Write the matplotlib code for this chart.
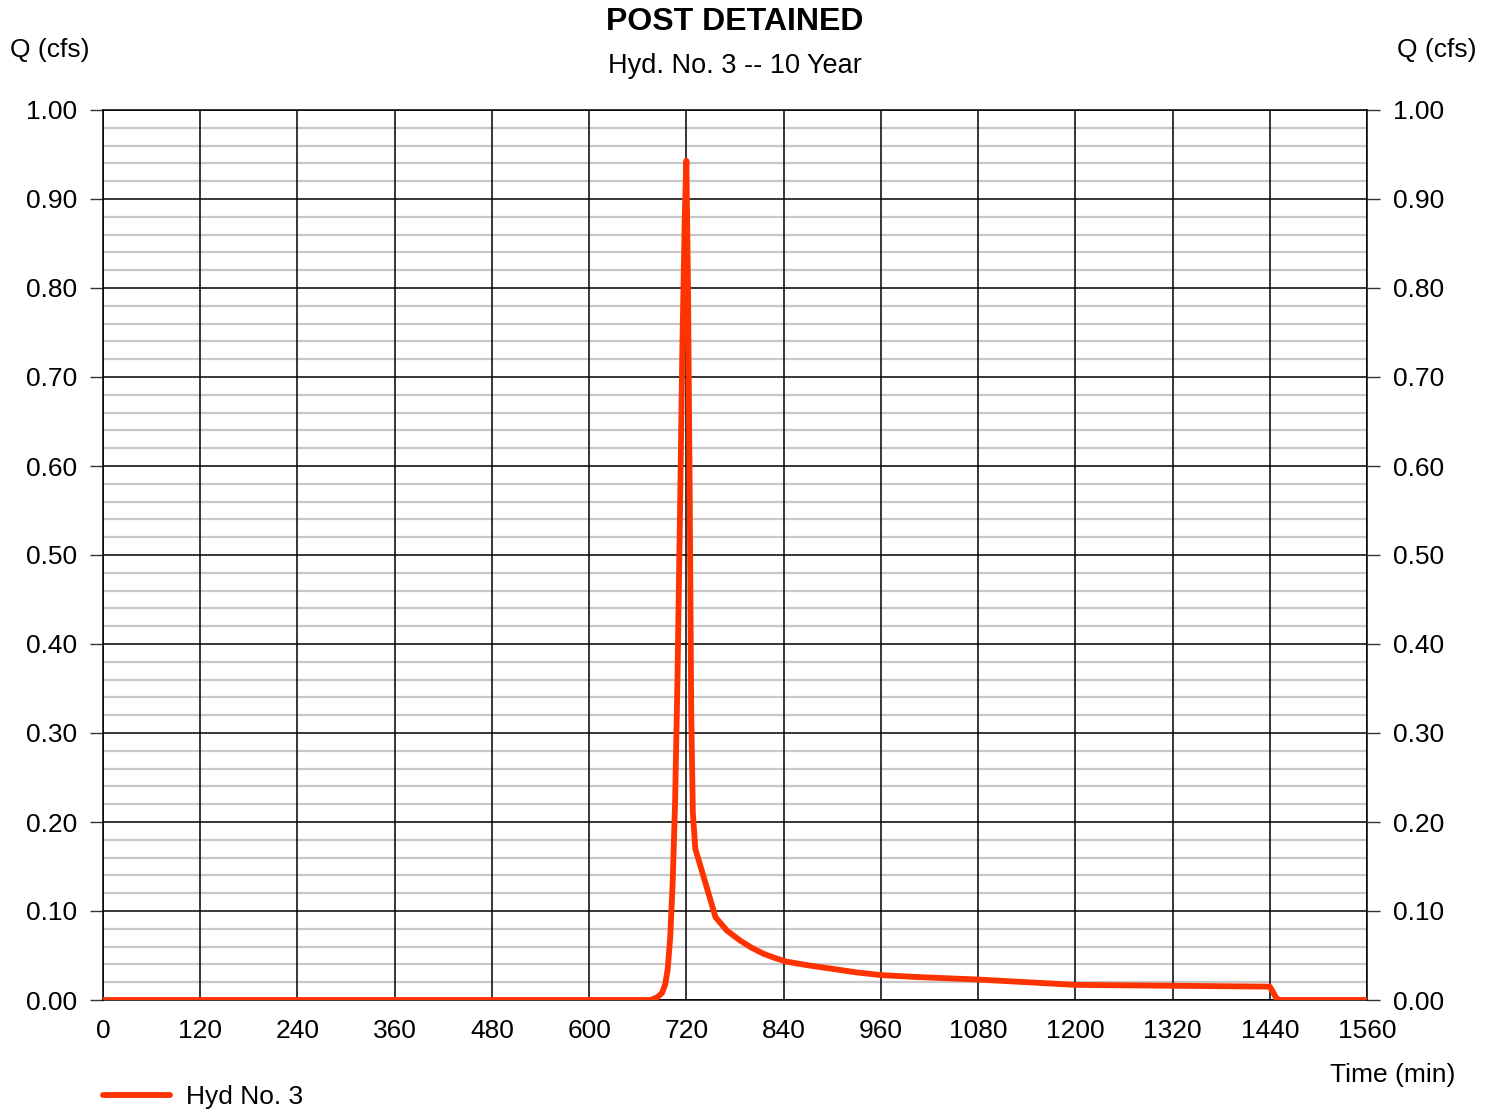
import numpy as np
import matplotlib
matplotlib.use("Agg")
import matplotlib.pyplot as plt
from matplotlib.ticker import MultipleLocator

plt.rcParams['font.family'] = ['Liberation Sans', 'DejaVu Sans']

# Hydrograph: time (min) and flow (cfs)
time_min = [0, 676, 684, 690, 694, 697, 700, 703, 706, 709, 712, 715, 718, 720,
            722, 724, 726, 728, 731, 744, 756, 770, 786, 800, 815, 830, 844,
            870, 900, 930, 960, 1000, 1040, 1080, 1120, 1160, 1200, 1260,
            1320, 1380, 1440, 1444, 1448, 1452, 1560]
flow_cfs = [0, 0, 0.003, 0.008, 0.018, 0.035, 0.07, 0.13, 0.22, 0.36, 0.54, 0.73, 0.88, 0.943,
            0.80, 0.58, 0.32, 0.21, 0.17, 0.13, 0.093, 0.078, 0.067, 0.059, 0.052, 0.047, 0.043,
            0.039, 0.035, 0.031, 0.028, 0.026, 0.0245, 0.023, 0.021, 0.019, 0.017, 0.0165,
            0.016, 0.0155, 0.015, 0.009, 0.002, 0, 0]

x_ticks = [0, 120, 240, 360, 480, 600, 720, 840, 960, 1080, 1200, 1320, 1440, 1560]
y_ticks = [0.0, 0.1, 0.2, 0.3, 0.4, 0.5, 0.6, 0.7, 0.8, 0.9, 1.0]

title = "POST DETAINED"
subtitle = "Hyd. No. 3 -- 10 Year"
series_name = "Hyd No. 3"

W, H = 1494, 1112
fig = plt.figure(figsize=(W / 100, H / 100), dpi=100)
ax = fig.add_axes([103 / W, 1 - 1000 / H, (1367 - 103) / W, (1000 - 110) / H])

ax.plot(time_min, flow_cfs, color='#ff3300', lw=4.2, solid_joinstyle='round',
        solid_capstyle='round', label=series_name, zorder=5)

ax.set_xlim(0, 1560)
ax.set_ylim(0, 1.0)
ax.set_xticks(x_ticks)
ax.set_yticks(y_ticks)
ax.set_yticklabels([f"{v:.2f}" for v in y_ticks])
ax.yaxis.set_minor_locator(MultipleLocator(0.02))

ax.grid(which='minor', axis='y', color='#c8c8c8', lw=1.6)
ax.grid(which='major', axis='both', color='black', lw=1.1)
ax.set_axisbelow(False)
# grey minor lines under the black vertical lines, all under the curve
ax.yaxis.set_zorder(1)
ax.xaxis.set_zorder(2)

for s in ax.spines.values():
    s.set_color('black')
    s.set_linewidth(1.1)
    s.set_zorder(3)

fs = 19
ax.tick_params(axis='y', which='major', left=True, right=True, labelright=True,
               direction='out', length=9.5, width=1.0, color='#333333',
               pad=9, labelsize=fs)
ax.tick_params(axis='y', which='minor', left=False, right=False)
ax.tick_params(axis='x', length=0, pad=14, labelsize=fs)

fig.text(735 / W, 1 - 22 / H, title, ha='center', va='center',
         fontsize=23, fontweight='bold')
fig.text(735 / W, 1 - 66 / H, subtitle, ha='center', va='center', fontsize=19.5)
fig.text(50 / W, 1 - 50 / H, "Q (cfs)", ha='center', va='center', fontsize=fs)
fig.text(1437 / W, 1 - 50 / H, "Q (cfs)", ha='center', va='center', fontsize=fs)
fig.text(1455 / W, 1 - 1075 / H, "Time (min)", ha='right', va='center', fontsize=fs)

fig.legend(loc='center left', bbox_to_anchor=(92 / W, 1 - 1097 / H), frameon=False,
           fontsize=fs, handlelength=2.55, handletextpad=0.6, borderaxespad=0)

fig.savefig("out.png", dpi=100)
